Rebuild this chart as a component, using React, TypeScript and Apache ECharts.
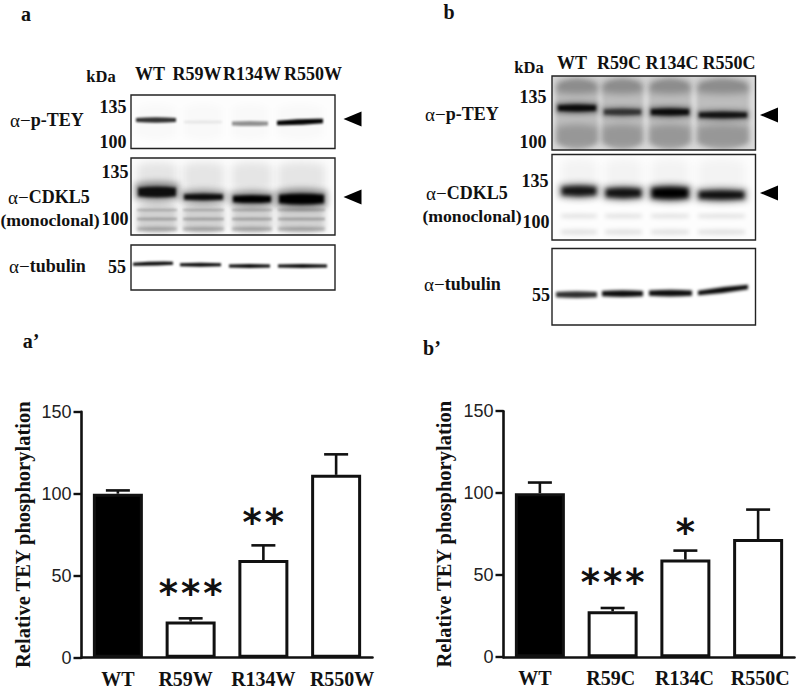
import React, { useEffect, useRef } from "react";
import * as echarts from "echarts";

const W = 800;
const H = 691;
const SERIF = '"Liberation Serif"';

// ---- chart data ----
const categoriesA = ["WT", "R59W", "R134W", "R550W"];
const meansA = [100, 22, 59.5, 111.5];
const uppersA = [102, 24, 68.5, 124];
const starCountA = [0, 3, 2, 0];
const starHeightA = [0, 43, 86, 0];

const categoriesB = ["WT", "R59C", "R134C", "R550C"];
const meansB = [100, 28, 59.5, 72];
const uppersB = [106.5, 30, 65, 90];
const starCountB = [0, 3, 1, 0];
const starHeightB = [0, 49, 80, 0];

const yTicks = [0, 50, 100, 150];
const yTitle = "Relative TEY phosphorylation";

// ---- blot painting (decorative gel images) ----
type Band = [number, number, number, number, number, number?]; // x0,x1,y,thickness,darkness,slope
function paintBands(ctx: CanvasRenderingContext2D, bands: Band[], blur: number) {
  ctx.filter = `blur(${blur}px)`;
  for (const [x0, x1, y, th, d, slope = 0] of bands) {
    ctx.fillStyle = `rgba(0,0,0,${d})`;
    ctx.beginPath();
    const r = th / 2;
    ctx.moveTo(x0, y + slope / 2 - r * 0.7);
    ctx.quadraticCurveTo((x0 + x1) / 2, y - r * 1.1, x1, y - slope / 2 - r * 0.7);
    ctx.lineTo(x1, y - slope / 2 + r * 0.7);
    ctx.quadraticCurveTo((x0 + x1) / 2, y + r * 1.1, x0, y + slope / 2 + r * 0.7);
    ctx.closePath();
    ctx.fill();
  }
  ctx.filter = "none";
}
function panel(
  ctx: CanvasRenderingContext2D,
  r: number[],
  bg: string,
  layers: [Band[], number][],
) {
  ctx.save();
  ctx.beginPath();
  ctx.rect(r[0], r[1], r[2] - r[0], r[3] - r[1]);
  ctx.clip();
  ctx.fillStyle = bg;
  ctx.fillRect(r[0], r[1], r[2] - r[0], r[3] - r[1]);
  for (const [bands, blur] of layers) paintBands(ctx, bands, blur);
  ctx.restore();
}
const frames = {
  a1: [131, 95, 335, 148.5],
  a2: [131, 158, 335, 235],
  a3: [131, 245, 335, 290],
  b1: [552, 76, 755.5, 150],
  b2: [552, 154.5, 755.5, 240],
  b3: [552, 248.5, 755.5, 325],
};
function lanes(xs: number[][], y: number, th: number, d: number): Band[] {
  return xs.map(([a, b]) => [a, b, y, th, d]);
}
function paintGels(): string {
  const c = document.createElement("canvas");
  c.width = W;
  c.height = H;
  const ctx = c.getContext("2d")!;
  ctx.fillStyle = "#fff";
  ctx.fillRect(0, 0, W, H);

  panel(ctx, frames.a1, "#fdfdfd", [
    [lanes([[136, 176], [184, 222], [232, 268], [277, 323]], 122, 40, 0.015), 3],
    [
      [
        [136, 176, 120, 6, 0.8],
        [184, 222, 122, 3.5, 0.08],
        [232, 268, 123.5, 5.5, 0.42],
        [277, 323, 122, 6.5, 0.98, 2],
      ],
      1.1,
    ],
  ]);
  const la2 = [
    [137, 177],
    [183, 224],
    [232, 272],
    [278, 325],
  ];
  panel(ctx, frames.a2, "#fcfcfc", [
    [lanes(la2, 177, 34, 0.09), 4],
    [lanes(la2, 218, 34, 0.17), 3],
    [lanes(la2, 210, 3, 0.2), 1.3],
    [lanes(la2, 219, 3.5, 0.24), 1.3],
    [lanes(la2, 229, 5, 0.24), 1.5],
    [
      [
        [135, 179, 191.5, 22, 0.42],
        [181, 226, 196.5, 16, 0.38],
        [230, 274, 198.5, 18, 0.42],
        [276, 327, 198.5, 22, 0.45],
      ],
      3,
    ],
    [
      [
        [138, 176, 192, 12, 0.9],
        [184, 223, 197, 8, 0.92],
        [233, 271, 199, 9, 1],
        [279, 324, 199, 12, 1],
      ],
      1.8,
    ],
  ]);
  panel(ctx, frames.a3, "#ffffff", [
    [
      [
        [133, 173, 263.7, 4.5, 0.95, 1],
        [180, 221, 264.7, 4.5, 0.95],
        [229, 270, 266, 4.5, 0.95],
        [278, 327, 266, 4.5, 0.95],
      ],
      1,
    ],
  ]);

  const lb1 = [
    [556, 598],
    [602, 643],
    [649, 691],
    [697, 749],
  ];
  panel(ctx, frames.b1, "#dcdcdc", [
    [lanes(lb1, 114, 80, 0.14), 2],
    [lanes(lb1, 86, 18, 0.26), 3.5],
    [lanes(lb1, 136, 26, 0.2), 3.5],
    [
      [
        [556, 598, 108, 14, 0.4],
        [602, 643, 112, 13, 0.3],
        [649, 691, 112, 14, 0.4],
        [697, 749, 115, 13, 0.35],
      ],
      2.5,
    ],
    [
      [
        [558, 596, 108, 8, 0.92],
        [604, 641, 112, 7, 0.62],
        [651, 689, 112, 8, 0.9],
        [699, 747, 115, 7, 0.85],
      ],
      1.8,
    ],
  ]);
  const lb2 = [
    [561, 597],
    [605, 642],
    [651, 689],
    [698, 745],
  ];
  panel(ctx, frames.b2, "#fdfdfd", [
    [lanes(lb2, 178, 44, 0.04), 5],
    [lanes(lb2, 216, 5, 0.11), 2],
    [lanes(lb2, 232, 6, 0.11), 2],
    [
      [
        [559, 599, 191, 18, 0.4],
        [603, 644, 193, 18, 0.4],
        [649, 691, 193, 20, 0.5],
        [696, 747, 195, 17, 0.4],
      ],
      3,
    ],
    [
      [
        [562, 596, 191, 11, 0.85],
        [606, 641, 193, 11, 0.88],
        [652, 688, 193, 13, 1],
        [699, 744, 195, 10, 0.9],
      ],
      2.2,
    ],
  ]);
  panel(ctx, frames.b3, "#ffffff", [
    [
      [
        [556, 597, 294.7, 7.5, 0.82],
        [602, 643, 293.7, 7.5, 0.95],
        [649, 692, 293, 7.5, 0.95],
        [698, 748, 290, 6.5, 0.98, 6],
      ],
      1.5,
    ],
  ]);
  return c.toDataURL("image/png");
}

// ---- annotation text ----
const serifText = (text: string, x: number, y: number, size = 18, align = "center") => ({
  type: "text",
  x,
  y,
  z: 5,
  style: {
    text,
    font: `bold ${size}px ${SERIF}`,
    fill: "#111",
    textAlign: align,
    textVerticalAlign: "middle",
  },
});
const alphaText = (text: string, x: number, y: number) => ({
  type: "text",
  x,
  y,
  z: 5,
  style: {
    text: `{g|α−}{b|${text}}`,
    textAlign: "left",
    textVerticalAlign: "middle",
    rich: {
      g: { fontFamily: SERIF, fontSize: 19, fill: "#111" },
      b: { fontFamily: SERIF, fontWeight: "bold", fontSize: 18, fill: "#111" },
    },
  },
});
const frameRect = (r: number[]) => ({
  type: "rect",
  z: 4,
  shape: { x: r[0], y: r[1], width: r[2] - r[0], height: r[3] - r[1] },
  style: { fill: "none", stroke: "#222", lineWidth: 1.4 },
});
const arrow = (x: number, y: number) => ({
  type: "polygon",
  z: 5,
  shape: { points: [[x, y], [x + 18, y - 7.5], [x + 18, y + 7.5]] },
  style: { fill: "#000" },
});

const annotations = [
  serifText("a", 26, 14, 20),
  serifText("b", 449, 12, 20),
  serifText("a’", 31, 341, 20),
  serifText("b’", 432, 348, 20),

  serifText("kDa", 101, 76, 16.5),
  serifText("WT", 150, 74),
  serifText("R59W", 197, 74),
  serifText("R134W", 252, 74),
  serifText("R550W", 313, 74),
  serifText("135", 113, 107),
  serifText("100", 113, 142),
  serifText("135", 115, 172),
  serifText("100", 115, 219),
  serifText("55", 117, 267),
  alphaText("p-TEY", 10, 120),
  alphaText("CDKL5", 8, 197),
  serifText("(monoclonal)", 50, 220, 17.7),
  alphaText("tubulin", 9, 266),
  arrow(343.5, 119),
  arrow(343.5, 197),

  serifText("kDa", 529, 67, 16.5),
  serifText("WT", 572, 63),
  serifText("R59C", 619, 63),
  serifText("R134C", 672, 63),
  serifText("R550C", 729, 63),
  serifText("135", 533, 97),
  serifText("100", 533, 142),
  serifText("135", 535, 181),
  serifText("100", 536, 222),
  serifText("55", 541, 295),
  alphaText("p-TEY", 425, 114),
  alphaText("CDKL5", 426, 193),
  serifText("(monoclonal)", 472, 216, 17.7),
  alphaText("tubulin", 424, 284),
  arrow(760, 115),
  arrow(760, 193),

  ...Object.values(frames).map(frameRect),
];

// ---- chart helpers ----
const AXIS = "#111";
function errorSeries(axis: number, means: number[], uppers: number[]) {
  return {
    type: "custom",
    xAxisIndex: axis,
    yAxisIndex: axis,
    z: 3,
    silent: true,
    data: means.map((m, i) => [i, m, uppers[i]]),
    renderItem: (_: any, api: any) => {
      const low = api.coord([api.value(0), api.value(1)]);
      const top = api.coord([api.value(0), api.value(2)]);
      const s = { stroke: "#111", lineWidth: 2.6 };
      return {
        type: "group",
        children: [
          { type: "line", shape: { x1: low[0], y1: low[1], x2: top[0], y2: top[1] }, style: s },
          { type: "line", shape: { x1: low[0] - 12, y1: top[1], x2: low[0] + 12, y2: top[1] }, style: s },
        ],
      };
    },
  };
}
function starSeries(axis: number, counts: number[], heights: number[]) {
  return {
    type: "custom",
    xAxisIndex: axis,
    yAxisIndex: axis,
    z: 4,
    silent: true,
    data: counts.map((n, i) => [i, heights[i], n]).filter((d) => d[2] > 0),
    renderItem: (_: any, api: any) => {
      const p = api.coord([api.value(0), api.value(1)]);
      return {
        type: "text",
        x: p[0],
        y: p[1] + 6,
        style: {
          text: "*".repeat(api.value(2)),
          font: 'bold 37px "DejaVu Sans Mono"',
          fill: "#111",
          textAlign: "center",
          textVerticalAlign: "middle",
        },
      };
    },
  };
}
function barSeries(axis: number, means: number[]) {
  return {
    type: "bar",
    xAxisIndex: axis,
    yAxisIndex: axis,
    barWidth: 50,
    z: 2,
    silent: true,
    data: means.map((v, i) => ({
      value: v,
      itemStyle: {
        color: i === 0 ? "#000" : "#fff",
        borderColor: "#111",
        borderWidth: 3,
      },
    })),
  };
}
function xAxis(grid: number, cats: string[], shifts: number[]) {
  const rich: Record<string, any> = {};
  cats.forEach((_, i) => {
    const s = shifts[i];
    rich[`c${i}`] = {
      fontFamily: SERIF,
      fontWeight: "bold",
      fontSize: 20,
      color: "#111",
      padding: s < 0 ? [0, -2 * s, 0, 0] : [0, 0, 0, 2 * s],
    };
  });
  return {
    type: "category",
    gridIndex: grid,
    data: cats,
    axisLine: { onZero: false, lineStyle: { color: AXIS, width: 2.6 } },
    axisTick: { alignWithLabel: true, length: 7, lineStyle: { color: AXIS, width: 2.4 } },
    axisLabel: {
      margin: 11,
      interval: 0,
      formatter: (v: string, i: number) => `{c${i}|${v}}`,
      rich,
    },
  };
}
function yAxis(grid: number, gap: number) {
  return {
    type: "value",
    gridIndex: grid,
    min: yTicks[0],
    max: yTicks[yTicks.length - 1],
    interval: yTicks[1] - yTicks[0],
    name: yTitle,
    nameLocation: "middle",
    nameGap: gap,
    nameTextStyle: { fontFamily: SERIF, fontWeight: "bold", fontSize: 20.5, color: "#111" },
    splitLine: { show: false },
    axisLine: { show: true, lineStyle: { color: AXIS, width: 2.6 } },
    axisTick: { show: true, length: 8, lineStyle: { color: AXIS, width: 2.4 } },
    axisLabel: {
      margin: 10,
      fontFamily: "Liberation Sans",
      fontSize: 18,
      color: "#222",
    },
  };
}

export default function App() {
  const ref = useRef<HTMLDivElement>(null);
  useEffect(() => {
    document.body.style.margin = "0";
    const chart = echarts.init(ref.current!, undefined, { renderer: "svg" });
    chart.setOption({
      animation: false,
      backgroundColor: "#fff",
      grid: [
        { left: 81.5, top: 411.7, width: 291, height: 246 },
        { left: 503.5, top: 411.2, width: 291, height: 246 },
      ],
      xAxis: [xAxis(0, categoriesA, [0, -5, 0, 6]), xAxis(1, categoriesB, [-5, -2, -1, 2])],
      yAxis: [yAxis(0, 48.5), yAxis(1, 49)],
      series: [
        barSeries(0, meansA),
        errorSeries(0, meansA, uppersA),
        starSeries(0, starCountA, starHeightA),
        barSeries(1, meansB),
        errorSeries(1, meansB, uppersB),
        starSeries(1, starCountB, starHeightB),
      ],
      graphic: [
        { type: "image", x: 0, y: 0, z: 0, silent: true, style: { image: paintGels(), x: 0, y: 0, width: W, height: H } },
        ...annotations,
      ],
    });
    return () => chart.dispose();
  }, []);
  return <div ref={ref} style={{ width: W, height: H }} />;
}
